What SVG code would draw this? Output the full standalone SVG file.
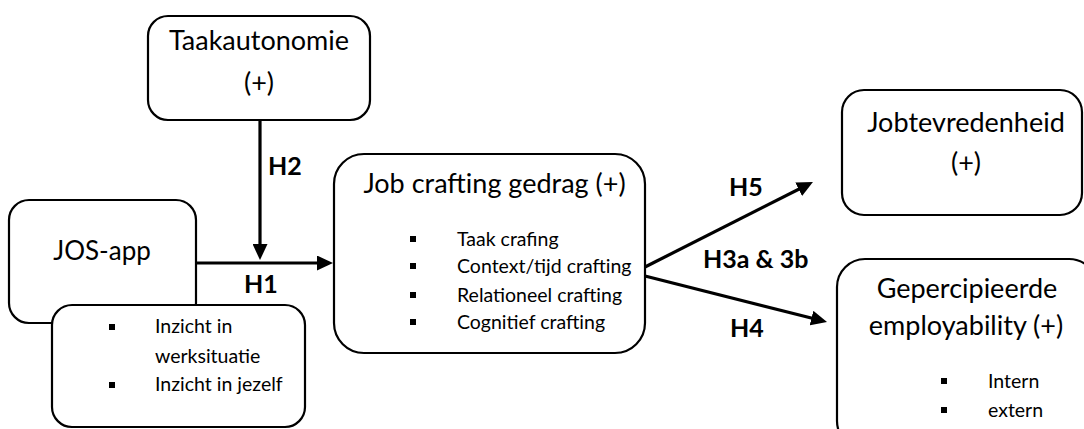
<svg xmlns="http://www.w3.org/2000/svg" width="1084" height="429" viewBox="0 0 1084 429">
<style>
.box{fill:#fff;stroke:#000;stroke-width:2.2}
.t{font-family:Lato,"Liberation Sans",sans-serif;font-size:27px;fill:#000;text-anchor:middle}
.s{font-family:Lato,"Liberation Sans",sans-serif;font-size:19.5px;fill:#000}
.h{font-family:Lato,"Liberation Sans",sans-serif;font-size:25px;font-weight:bold;fill:#000}
.c{stroke:#000;stroke-width:3.2;fill:none}
.b{fill:#000}
</style>
<defs>
<marker id="arr" markerUnits="userSpaceOnUse" markerWidth="16" markerHeight="15" refX="10" refY="7.5" orient="auto">
<path d="M0,0 L16,7.5 L0,15 z" fill="#000"/>
</marker>
</defs>
<rect width="1084" height="429" fill="#fff"/>
<g id="connectors">
<line class="c" x1="196" y1="263" x2="327" y2="263" marker-end="url(#arr)"/>
<line class="c" x1="260" y1="120" x2="260" y2="254" marker-end="url(#arr)"/>
<line class="c" x1="645" y1="267" x2="807.6" y2="184.7" marker-end="url(#arr)"/>
<line class="c" x1="645" y1="276" x2="821.2" y2="320.5" marker-end="url(#arr)"/>
<text class="h" x="268" y="175">H2</text>
<text class="h" x="261" y="293" text-anchor="middle">H1</text>
<text class="h" x="729" y="196">H5</text>
<text class="h" x="703" y="268">H3a &amp; 3b</text>
<text class="h" x="730" y="337">H4</text>
</g>
<g id="taakautonomie">
<rect class="box" x="148" y="16" width="222" height="104" rx="20"/>
<text class="t" x="259" y="50">Taakautonomie</text>
<text class="t" x="259" y="92">(+)</text>
</g>
<g id="jos-app">
<rect class="box" x="9" y="200" width="187" height="123" rx="20"/>
<text class="t" x="102" y="260" style="font-size:26px">JOS-app</text>
</g>
<g id="jos-app-inzicht">
<rect class="box" x="52" y="305" width="253" height="122" rx="20"/>
<rect class="b" x="109" y="324" width="6" height="6"/>
<rect class="b" x="109" y="382" width="6" height="6"/>
<text class="s" x="155" y="333">Inzicht in</text>
<text class="s" x="155" y="363">werksituatie</text>
<text class="s" x="155" y="391">Inzicht in jezelf</text>
</g>
<g id="job-crafting">
<rect class="box" x="334" y="154" width="311" height="199" rx="30"/>
<text class="t" x="494.5" y="193">Job crafting gedrag (+)</text>
<rect class="b" x="410" y="236" width="6" height="6"/>
<rect class="b" x="410" y="263" width="6" height="6"/>
<rect class="b" x="410" y="292" width="6" height="6"/>
<rect class="b" x="410" y="319" width="6" height="6"/>
<text class="s" x="457" y="246">Taak crafing</text>
<text class="s" x="457" y="273">Context/tijd crafting</text>
<text class="s" x="457" y="302">Relationeel crafting</text>
<text class="s" x="457" y="329">Cognitief crafting</text>
</g>
<g id="jobtevredenheid">
<rect class="box" x="842" y="90" width="240" height="125" rx="22"/>
<text class="t" x="966" y="132">Jobtevredenheid</text>
<text class="t" x="966" y="172">(+)</text>
</g>
<g id="employability">
<rect class="box" x="837" y="259" width="260" height="190" rx="28"/>
<text class="t" x="967" y="298">Gepercipieerde</text>
<text class="t" x="966" y="335">employability (+)</text>
<rect class="b" x="941" y="378" width="6" height="6"/>
<rect class="b" x="941" y="407" width="6" height="6"/>
<text class="s" x="988" y="388">Intern</text>
<text class="s" x="988" y="417">extern</text>
</g>
</svg>
